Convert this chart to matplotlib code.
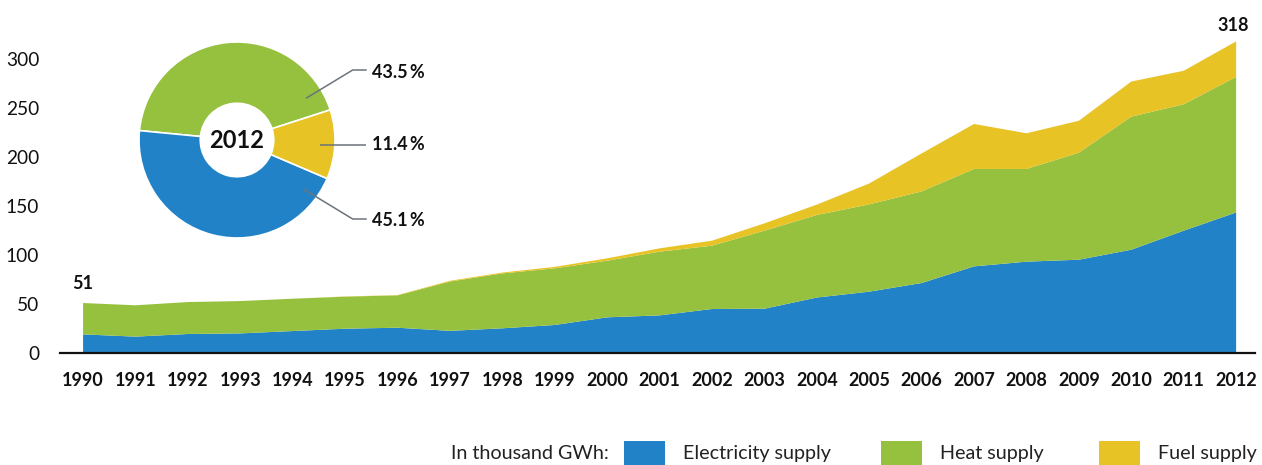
import matplotlib
matplotlib.use("Agg")
import matplotlib.pyplot as plt
from matplotlib.patches import Rectangle

plt.rcParams['font.family'] = ['Lato', 'DejaVu Sans']

# Data (thousand GWh)
years = list(range(1990, 2013))
electricity = [19.0, 16.7, 19.4, 20.0, 22.4, 24.8, 25.8, 22.6, 25.2, 28.6, 36.4, 38.4,
               44.9, 45.2, 56.6, 62.6, 71.4, 88.4, 93.2, 95.2, 105.4, 124.8, 143.4]
heat = [32.0, 32.0, 32.6, 33.0, 33.0, 32.7, 33.0, 50.3, 56.0, 57.8, 57.8, 65.0,
        64.6, 79.6, 84.2, 89.1, 93.5, 99.4, 94.6, 109.2, 135.8, 129.0, 138.3]
fuel = [0.0, 0.0, 0.0, 0.0, 0.0, 0.2, 0.3, 0.8, 0.9, 1.5, 2.4, 3.4,
        5.1, 7.5, 10.6, 21.3, 38.8, 45.9, 36.4, 32.6, 35.8, 34.2, 36.3]
series_names = ["Electricity supply", "Heat supply", "Fuel supply"]
share_2012 = {"Heat supply": 43.5, "Electricity supply": 45.1, "Fuel supply": 11.4}
y_ticks = [0, 50, 100, 150, 200, 250, 300]

BLUE = "#2282C8"
GREEN = "#96C13E"
YELLOW = "#E8C325"
colors = [BLUE, GREEN, YELLOW]

W, H = 1262, 465
fig = plt.figure(figsize=(W / 100, H / 100), dpi=100)

# Main stacked area chart
ax = fig.add_axes([60 / W, 1 - 353 / H, (1255 - 60) / W, (353 - 29.6) / H])
ax.stackplot(years, electricity, heat, fuel, colors=colors, linewidth=0)
ax.set_xlim(1989.56, 2012.36)
ax.set_ylim(0, 330)
for s in ["left", "right", "top"]:
    ax.spines[s].set_visible(False)
ax.spines["bottom"].set_linewidth(1.6)
ax.spines["bottom"].set_color("#111111")
ax.set_yticks(y_ticks)
ax.set_xticks(years)
ax.set_xticklabels([str(y) for y in years], fontweight="bold", fontsize=13)
ax.tick_params(axis="x", length=0, pad=14, labelcolor="#111111")
ax.tick_params(axis="y", length=0, pad=15, labelsize=13.8, labelcolor="#111111")

totals = [e + h + f for e, h, f in zip(electricity, heat, fuel)]
ax.annotate(f"{totals[0]:.0f}", (years[0], totals[0]), xytext=(0, 8),
            textcoords="offset points", ha="center", va="bottom",
            fontsize=13, fontweight="bold", color="#111111")
ax.annotate(f"{totals[-1]:.0f}", (years[-1], totals[-1]), xytext=(-2, 5),
            textcoords="offset points", ha="center", va="bottom",
            fontsize=13, fontweight="bold", color="#111111")

# Donut for 2012 shares
cx, cy, r = 237, 140, 98
pax = fig.add_axes([(cx - r) / W, 1 - (cy + r) / H, 2 * r / W, 2 * r / H])
order = ["Heat supply", "Electricity supply", "Fuel supply"]
pie_colors = {"Electricity supply": BLUE, "Heat supply": GREEN, "Fuel supply": YELLOW}
pax.pie([share_2012[k] for k in order], colors=[pie_colors[k] for k in order],
        startangle=17.9, counterclock=True, radius=1.0,
        wedgeprops=dict(width=0.625, edgecolor="white", linewidth=1.2))
pax.set_xlim(-1, 1)
pax.set_ylim(-1, 1)
pax.set_aspect("auto")
pax.axis("off")
pax.text(0, 0, "2012", ha="center", va="center", fontsize=17, fontweight="bold",
         color="#111111")


def to_pie(px, py):
    return (px - cx) / r, (cy - py) / r


leaders = [
    ("Heat supply", [(306, 98.3), (352.7, 70), (366.7, 70)], 72),
    ("Fuel supply", [(320, 145), (366, 145)], 145),
    ("Electricity supply", [(303.3, 189), (352.7, 219), (366.7, 219)], 220),
]
for key, pts, ty in leaders:
    xs, ys = zip(*[to_pie(*p) for p in pts])
    pax.plot(xs, ys, color="#6B737B", linewidth=1.1, clip_on=False,
             solid_capstyle="butt")
    tx, tyd = to_pie(372, ty)
    pax.text(tx, tyd, f"{share_2012[key]:.1f}\u2009%", ha="left", va="center",
             fontsize=13, fontweight="bold", color="#111111", clip_on=False)

# Legend row
ly = 453
fig.text(451 / W, 1 - ly / H, "In thousand GWh:", ha="left", va="center",
         fontsize=14.2, color="#222222")
legend_items = [(624, 683), (881, 940), (1099, 1158)]
for (bx, tx), name, col in zip(legend_items, series_names, colors):
    fig.patches.append(Rectangle((bx / W, 1 - 465 / H), 41 / W, 24 / H,
                                 transform=fig.transFigure, facecolor=col,
                                 edgecolor="none"))
    fig.text(tx / W, 1 - ly / H, name, ha="left", va="center",
             fontsize=14.2, color="#222222")

fig.savefig("out.png", dpi=100)
